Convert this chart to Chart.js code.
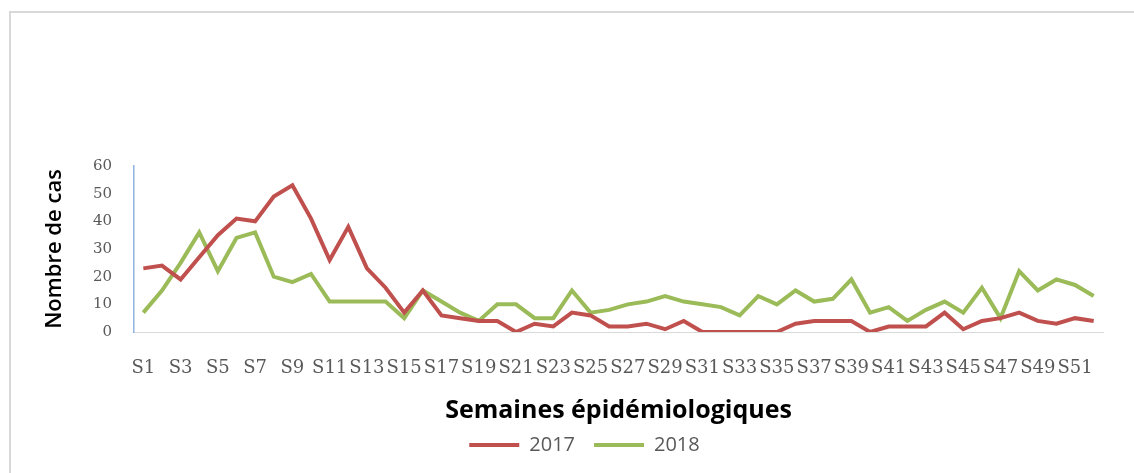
<!DOCTYPE html>
<html>
<head>
<meta charset="utf-8">
<script src="https://cdn.jsdelivr.net/npm/chart.js@4/dist/chart.umd.min.js"></script>
<style>
    html, body { margin: 0; padding: 0; background: #fff; }
    #wrap { position: relative; width: 1134px; height: 473px; }
    #frame {
        position: absolute; left: 9px; top: 11px; right: 0; bottom: 0;
        border-left: 2px solid #d9d9d9; border-top: 2px solid #d9d9d9;
        pointer-events: none;
    }
    canvas { position: absolute; left: 0; top: 0; }
</style>
</head>
<body>
<div id="wrap">
    <canvas id="casChart" width="1134" height="473"></canvas>
    <div id="frame"></div>
</div>
<script>
// #############################################################################
// Data

// Epidemiological weeks S1..S52
const weeks = [];
for (let i = 1; i <= 52; i++) weeks.push("S" + i);

// Number of cases per week
const cases2017 = [23, 24, 19, 27, 35, 41, 40, 49, 53, 41, 26, 38, 23, 16, 7, 15, 6, 5, 4, 4,
    0, 3, 2, 7, 6, 2, 2, 3, 1, 4, 0, 0, 0, 0, 0, 3, 4, 4, 4, 0,
    2, 2, 2, 7, 1, 4, 5, 7, 4, 3, 5, 4];
const cases2018 = [7, 15, 25, 36, 22, 34, 36, 20, 18, 21, 11, 11, 11, 11, 5, 15, 11, 7, 4, 10,
    10, 5, 5, 15, 7, 8, 10, 11, 13, 11, 10, 9, 6, 13, 10, 15, 11, 12, 19, 7,
    9, 4, 8, 11, 7, 16, 5, 22, 15, 19, 17, 13];

const seriesLabels = ["2017", "2018"];
const yTicks = [0, 10, 20, 30, 40, 50, 60];

// #############################################################################
// Chart

const serif = "'DejaVu Serif', 'Liberation Serif', serif";
const sans = "'Open Sans', sans-serif";

// Nudge the legend to the right so it sits under the middle of the page
const legendShift = {
    id: "legendShift",
    afterLayout: function (chart) {
        const legend = chart.legend;
        if (!legend) return;
        legend.left += 33;
        legend.right += 33;
    },
};

const ctx = document.getElementById("casChart").getContext("2d");
const chart = new Chart(ctx, {
    type: "line",
    data: {
        labels: weeks,
        datasets: [
            {
                label: seriesLabels[0],
                data: cases2017,
                borderColor: "#c0504d",
                backgroundColor: "#c0504d",
                borderWidth: 4,
                pointRadius: 0,
                tension: 0,
            },
            {
                label: seriesLabels[1],
                data: cases2018,
                borderColor: "#9bbb59",
                backgroundColor: "#9bbb59",
                borderWidth: 4,
                pointRadius: 0,
                tension: 0,
            },
        ],
    },
    plugins: [legendShift],
    options: {
        responsive: false,
        animation: false,
        layout: {
            padding: { top: 166, right: 31, bottom: 8, left: 0 },
        },
        plugins: {
            tooltip: { enabled: false },
            legend: {
                position: "bottom",
                labels: {
                    usePointStyle: true,
                    pointStyle: "line",
                    pointStyleWidth: 50,
                    boxHeight: 3,
                    padding: 19,
                    color: "#595959",
                    font: { family: sans, size: 20 },
                },
            },
        },
        scales: {
            x: {
                offset: true,
                grid: { display: false, drawTicks: false },
                border: { display: true, color: "#d9d9d9", width: 1 },
                ticks: {
                    autoSkip: false,
                    maxRotation: 0,
                    padding: 26,
                    color: "#595959",
                    font: { family: serif, size: 18 },
                    callback: function (value, index) {
                        return index % 2 === 0 ? weeks[index] : "";
                    },
                },
                title: {
                    display: true,
                    text: "Semaines épidémiologiques",
                    color: "#000",
                    font: { family: sans, size: 25, weight: "bold" },
                    padding: { top: 0, bottom: -10 },
                },
                afterFit: function (scale) {
                    scale.height = 84;
                },
            },
            y: {
                min: 0,
                max: 60,
                afterBuildTicks: function (scale) {
                    scale.ticks = yTicks.map((v) => ({ value: v }));
                },
                grid: { display: false, drawTicks: false },
                border: { display: true, color: "#8eb4e3", width: 1.5 },
                ticks: {
                    padding: 22,
                    color: "#595959",
                    font: { family: serif, size: 15 },
                },
                title: {
                    display: true,
                    text: "Nombre de cas",
                    color: "#000",
                    font: { family: sans, size: 22, weight: "600" },
                    padding: { top: 42, bottom: 0 },
                },
                afterFit: function (scale) {
                    scale.width = 134;
                },
            },
        },
    },
});
</script>
</body>
</html>
